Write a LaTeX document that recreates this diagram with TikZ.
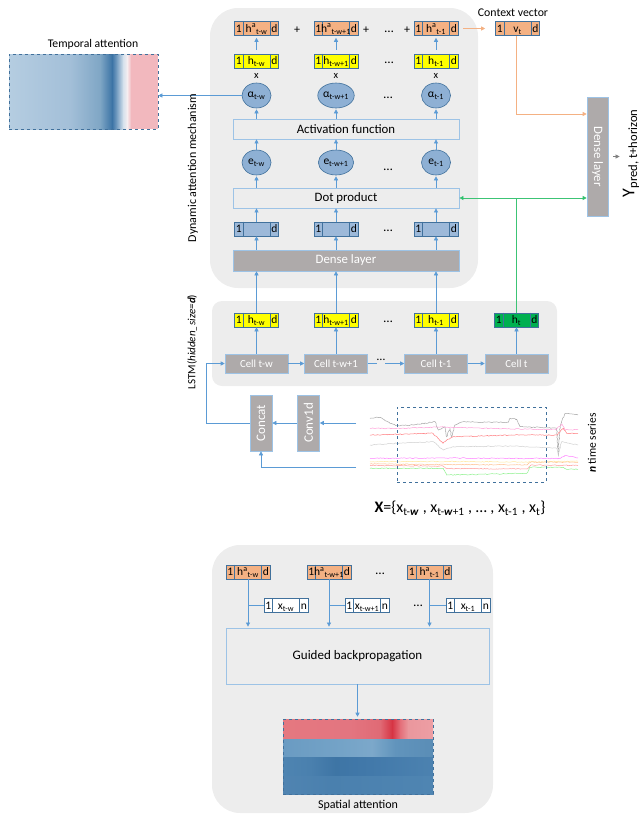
\documentclass[tikz,border=0pt]{standalone}
\usepackage{fontspec}
\setmainfont{Carlito}
\usetikzlibrary{arrows.meta,shapes.geometric,decorations.pathmorphing,calc}

\definecolor{panel}{HTML}{EDEDED}
\definecolor{bord}{HTML}{41719C}
\definecolor{lblue}{HTML}{9DC3E6}
\definecolor{arrc}{HTML}{5B9BD5}
\definecolor{orng}{HTML}{F4B183}
\definecolor{ylw}{HTML}{FFFF00}
\definecolor{grn}{HTML}{00B050}
\definecolor{bluebox}{HTML}{9DB9D9}
\definecolor{circ}{HTML}{8EB0D4}
\definecolor{cellg}{HTML}{AEAAAA}
\definecolor{olin}{HTML}{F4B183}
\definecolor{glin}{HTML}{3CC475}
\definecolor{garr}{HTML}{00B050}
% temporal
\definecolor{ta}{HTML}{B5CDE1}\definecolor{tb}{HTML}{A3BFD8}\definecolor{tc}{HTML}{7FA6C5}
\definecolor{td}{HTML}{3B73A5}\definecolor{te}{HTML}{7AA1C4}\definecolor{tf}{HTML}{D5E1EC}
\definecolor{tg}{HTML}{F6EEF0}\definecolor{th}{HTML}{F2B8BE}
% spatial
\definecolor{sa}{HTML}{E57880}\definecolor{sb}{HTML}{E37580}\definecolor{sc}{HTML}{E06A75}
\definecolor{sd}{HTML}{D63444}\definecolor{se}{HTML}{E46E79}\definecolor{sf}{HTML}{EA979D}
\definecolor{sg}{HTML}{ED9EA4}
\definecolor{ra}{HTML}{6A9BC2}\definecolor{rb}{HTML}{74A3C7}\definecolor{rc}{HTML}{7CA8CA}
\definecolor{rd}{HTML}{6194BC}\definecolor{re}{HTML}{5A8DB6}
\definecolor{qa}{HTML}{4E84B1}\definecolor{qb}{HTML}{4A80AE}\definecolor{qc}{HTML}{3E75A5}
\definecolor{qd}{HTML}{4279AA}\definecolor{qe}{HTML}{4C82B0}
\definecolor{pa}{HTML}{5084B1}\definecolor{pb}{HTML}{4A80AE}\definecolor{pc}{HTML}{4F85B2}
% series
\definecolor{s1}{HTML}{A6A6A6}\definecolor{s2}{HTML}{FF9ED8}\definecolor{s3}{HTML}{FF7C80}
\definecolor{s4}{HTML}{D0D0D0}\definecolor{s5}{HTML}{FF80FF}\definecolor{s6}{HTML}{FFE699}
\definecolor{s7}{HTML}{FFC090}\definecolor{s8}{HTML}{FF9A9A}\definecolor{s9}{HTML}{8CF08C}

\newcommand{\fs}[1]{\fontsize{#1}{#1}\selectfont}

\tikzset{
 vb/.style={draw=bord, line width=0.6pt, minimum width=44pt, minimum height=14pt, inner sep=0pt},
 vbl/.style={draw=bord, line width=0.6pt},
 vbt/.style={inner sep=0pt, anchor=base, font=\fs{11.5}},
 arr/.style={draw=arrc, line width=0.6pt, -{Triangle[length=4pt,width=4pt]}},
 lin/.style={draw=arrc, line width=0.6pt},
 opbox/.style={draw=lblue, line width=0.8pt, minimum width=226pt, minimum height=20pt, inner sep=0pt, font=\fs{12.8}},
 grbox/.style={fill=cellg, draw=lblue, line width=0.6pt, text=white, inner sep=0pt},
 circn/.style={ellipse, fill=circ, draw=bord, line width=0.6pt, minimum width=29pt, minimum height=25pt, inner sep=0pt, font=\fs{11.5}},
 dotsn/.style={inner sep=0pt, anchor=base, font=\fs{13}},
 lbl/.style={inner sep=0pt, font=\fs{12}},
 xmark/.style={inner sep=0pt, font=\fs{10.5}},
 heat/.style={draw=bord, dashed, line width=0.6pt, inner sep=0pt},
}

\newcommand{\vecbox}[6]{%
 \node[vb, fill=#4] (#1) at (#2,#3) {};
 \draw[vbl] ([xshift=9pt]#1.north west) -- ([xshift=9pt]#1.south west);
 \draw[vbl] ([xshift=-9pt]#1.north east) -- ([xshift=-9pt]#1.south east);
 \node[vbt] at ([xshift=4.5pt,yshift=-3.8pt]#1.west) {1};
 \node[vbt] at ([yshift=-3.8pt]#1.center) {#5};
 \node[vbt] at ([xshift=-4.5pt,yshift=-3.8pt]#1.east) {#6};
}
\newcommand{\hs}[6]{\shade[left color=#5, right color=#6] (#1,#3) rectangle (#2,#4);}

\begin{document}
\begin{tikzpicture}[x=1pt,y=-1pt]
\useasboundingbox (0,0) rectangle (639,817);

% panels
\fill[panel, rounded corners=28pt] (210,8) rectangle (478,288);
\fill[panel, rounded corners=10pt] (212,301) rectangle (557,386);
\fill[panel, rounded corners=28pt] (212,545) rectangle (493,813);

% ---------- top: weighted hidden states ----------
\vecbox{ha1}{256.5}{28.5}{orng}{h\textsuperscript{a}\textsubscript{t-w}}{d}
\vecbox{ha2}{336}{28.5}{orng}{h\textsuperscript{a}\textsubscript{t-w+1}}{d}
\vecbox{ha3}{436}{28.5}{orng}{h\textsuperscript{a}\textsubscript{t-1}}{d}
\node[lbl] (pl1) at (297,30) {+};
\node[lbl] (pl2) at (366,30) {+};
\node[dotsn] (dt0) at (389,32) {…};
\node[lbl] (pl3) at (407,30) {+};

\vecbox{hy1}{256.5}{61}{ylw}{h\textsubscript{t-w}}{d}
\vecbox{hy2}{336}{61}{ylw}{h\textsubscript{t-w+1}}{d}
\vecbox{hy3}{436}{61}{ylw}{h\textsubscript{t-1}}{d}
\node[dotsn] (dt1) at (389,63) {…};
\foreach \k in {1,2,3}{\draw[arr, shorten <=4pt, shorten >=2pt] (hy\k.north) -- (ha\k.south);}

\node[xmark] (m1) at (256.5,75.5) {x};
\node[xmark] (m2) at (336,75.5) {x};
\node[xmark] (m3) at (436,75.5) {x};

\node[circn] (al1) at (256.5,95.5) {α\textsubscript{t-w}};
\node[circn] (al2) at (336,95.5) {α\textsubscript{t-w+1}};
\node[circn] (al3) at (436,95.5) {α\textsubscript{t-1}};
\node[dotsn] (dt2) at (388,98) {…};

\node[opbox] (act) at (346,129) {Activation function};
\foreach \k in {1,2,3}{\draw[arr, shorten >=1pt] (act.north -| al\k.south) -- (al\k.south);}

\node[circn] (e1) at (256.5,162.5) {e\textsubscript{t-w}};
\node[circn] (e2) at (336,162.5) {e\textsubscript{t-w+1}};
\node[circn] (e3) at (436,162.5) {e\textsubscript{t-1}};
\node[dotsn] (dt3) at (388,170) {…};
\foreach \k in {1,2,3}{\draw[arr] (e\k.north) -- (e\k.north |- act.south);}

\node[opbox] (dot) at (346,198) {Dot product};
\foreach \k in {1,2,3}{\draw[arr, shorten >=1pt] (dot.north -| e\k.south) -- (e\k.south);}

\vecbox{bb1}{256.5}{229}{bluebox}{}{d}
\vecbox{bb2}{336}{229}{bluebox}{}{d}
\vecbox{bb3}{436}{229}{bluebox}{}{d}
\node[dotsn] (dt4) at (388,231) {…};
\foreach \k in {1,2,3}{\draw[arr] (bb\k.north) -- (bb\k.north |- dot.south);}

\node[grbox, minimum width=226pt, minimum height=21pt, font=\fs{12.8}] (dense1) at (346,260.5) {Dense layer};
\foreach \k in {1,2,3}{\draw[arr] (dense1.north -| bb\k.south) -- (bb\k.south);}

% ---------- LSTM ----------
\vecbox{lh1}{256.5}{320}{ylw}{h\textsubscript{t-w}}{d}
\vecbox{lh2}{336}{320}{ylw}{h\textsubscript{t-w+1}}{d}
\vecbox{lh3}{436}{320}{ylw}{h\textsubscript{t-1}}{d}
\vecbox{ht}{516.5}{320}{grn}{h\textsubscript{t}}{d}
\node[dotsn] (dt5) at (388,322) {…};
\foreach \k in {1,2,3}{\draw[arr] (lh\k.north) -- (lh\k.north |- dense1.south);}

\node[grbox, minimum width=63pt, minimum height=19pt, font=\fs{10.8}] (c1) at (256.5,363.5) {Cell t-w};
\node[grbox, minimum width=63pt, minimum height=19pt, font=\fs{10.8}] (c2) at (336,363.5) {Cell t-w+1};
\node[grbox, minimum width=63pt, minimum height=19pt, font=\fs{10.8}] (c3) at (436,363.5) {Cell t-1};
\node[grbox, minimum width=63pt, minimum height=19pt, font=\fs{10.8}] (c4) at (516.5,363.5) {Cell t};
\node[inner sep=0pt, font=\fs{12}] (cdots) at (381,360) {…};
\draw[arr] (c1.east) -- (c2.west);
\draw[lin] (c2.east) -- (c2.east -| cdots.west);
\draw[arr] (c3.west -| cdots.east) -- (c3.west);
\draw[arr] (c3.east) -- (c4.west);
\draw[arr] (c1.north) -- (lh1.south);
\draw[arr] (c2.north) -- (lh2.south);
\draw[arr] (c3.north) -- (lh3.south);
\draw[arr] (c4.north) -- (ht.south);

% ---------- context vector & output ----------
\vecbox{ctx}{517.5}{28.5}{orng}{v\textsubscript{t}}{d}
\node[lbl, font=\fs{11.8}] (ctxl) at (513,13) {Context vector};
\draw[draw=olin, line width=0.8pt, -{Triangle[length=4pt,width=4pt]}, shorten <=5pt, shorten >=10pt] (ha3.east) -- (ctx.west);

\node[grbox, minimum width=21pt, minimum height=119pt] (dense2) at (597.5,156.5) {\rotatebox{-90}{\fs{12.8}Dense layer}};
\coordinate (oj) at (516,114);
\draw[draw=olin, line width=0.8pt, -{Triangle[length=4pt,width=4pt]}] (ctx.south -| oj) -- (oj) -- (oj -| dense2.west);

\draw[draw=glin, line width=0.8pt] (ht.north) -- (ht.north |- dot.east);
\draw[draw=glin, line width=0.8pt, -{Triangle[length=4pt,width=4pt,fill=garr]}] (ht.north |- dot.east) -- (dot.east);
\draw[draw=glin, line width=0.8pt, -{Triangle[length=4pt,width=4pt,fill=garr]}] (ht.north |- dot.east) -- (dense2.west |- dot.east);

\node[inner sep=0pt] (yout) at (631,153) {\rotatebox{90}{\fs{18}Y\textsubscript{pred, t+horizon}}};
\draw[draw=gray, line width=0.6pt, -{Triangle[length=4pt,width=4pt]}, shorten <=5pt, shorten >=3pt] (dense2.east) -- (dense2.east -| yout.west);

% ---------- temporal attention ----------
\hs{9}{70.3}{54}{129}{ta}{tb}
\hs{70}{100.3}{54}{129}{tb}{tc}
\hs{100}{112.3}{54}{129}{tc}{td}
\hs{112}{117.3}{54}{129}{td}{te}
\hs{117}{123.3}{54}{129}{te}{tf}
\hs{123}{127.3}{54}{129}{tf}{tg}
\hs{127}{131.3}{54}{129}{tg}{th}
\fill[th] (131,54) rectangle (158,129);
\node[heat, minimum width=149pt, minimum height=75pt] (temp) at (83.5,91.5) {};
\node[lbl, font=\fs{11.7}] (templ) at (93,44) {Temporal attention};
\draw[arr] (al1.west) -- (al1.west -| temp.east);

% ---------- side labels ----------
\node[lbl, rotate=90] (daml) at (193,168) {Dynamic attention mechanism};
\node[lbl, rotate=90, font=\fs{11}] (lstml) at (192,342) {LSTM(\textit{hidden\_size=}\textbf{\textit{d}})};

% ---------- input ----------
\node[grbox, minimum width=22pt, minimum height=56pt] (concat) at (261,423) {\rotatebox{90}{\fs{13}Concat}};
\node[grbox, minimum width=22pt, minimum height=56pt] (conv) at (308.5,423) {\rotatebox{90}{\fs{13}Conv1d}};
\coordinate (lstmin) at (206,363.5);
\coordinate (ts1) at (356,423);
\coordinate (ts2) at (356,467);
\draw[arr] (concat.west) -| (lstmin) -- (c1.west);
\draw[arr] (conv.west) -- (concat.east);
\draw[arr] (ts1) -- (conv.east);
\draw[arr] (ts2) -| (concat.south);

\begin{scope}[line width=0.5pt, decoration={random steps, segment length=1.5pt, amplitude=0.45pt}]
\pgfmathsetseed{7}
\draw[s1, decorate] (370,418.3) -- (380,417.3) -- (390,423.3) -- (396.7,425.7) -- (413.3,425) -- (435,421.7) -- (438.3,430) -- (445,426.7) -- (446.7,436.7) -- (450,428.3) -- (451.7,436.7) -- (455,425) -- (463.3,421.7) -- (480,422.3) -- (508.3,422.3) -- (510,418.3) -- (516.7,419.3) -- (520,426.7) -- (545,427.7) -- (556.7,428.3) -- (558.3,455) -- (560,426.7) -- (565,413.3) -- (568.3,413.3) -- (578,415);
\draw[s2, decorate] (370,428.3) -- (396,428.5) -- (440,427) -- (513,429) -- (556,429.5) -- (562,424) -- (565,430) -- (578,429.5);
\draw[s3, decorate] (370,435) -- (433,433.3) -- (438,438.3) -- (443,443.3) -- (446.7,440) -- (453,436.7) -- (513,435) -- (556.7,435) -- (563.3,428.3) -- (566.7,433.3) -- (578,433.3);
\draw[s4, decorate] (370,445) -- (396.7,443.3) -- (433.3,441.7) -- (443.3,450) -- (453.3,446.7) -- (513.3,446) -- (556.7,448.3) -- (558.3,453.3) -- (561.7,441.7) -- (578,445);
\draw[s5, decorate] (370,458.3) -- (445,458) -- (560,458.5) -- (565,455.5) -- (578,458);
\draw[s6, decorate] (370,461.7) -- (445,461.5) -- (530,462) -- (578,461);
\draw[s7, decorate] (370,464) -- (445,464.5) -- (527,465) -- (531,462) -- (578,462.5);
\draw[s8, decorate] (370,465.5) -- (443,466) -- (447,468.5) -- (527,469) -- (531,465) -- (578,465.5);
\draw[s9, decorate] (370,468.3) -- (443.3,468.3) -- (446.7,475) -- (526.7,473.3) -- (530,467.3) -- (563.3,467.3) -- (566.7,469.3) -- (578,469.3);
\end{scope}
\node[heat, minimum width=149pt, minimum height=75pt] (tsbox) at (471.5,444.5) {};
\node[lbl, rotate=90, font=\fs{11.5}] (ntl) at (592,443) {\textbf{\textit{n}} time series};
\node[inner sep=0pt, font=\fs{16}] (xlbl) at (460,508) {\textbf{X}=\{x\textsubscript{t-\textbf{\textit{w}}} , x\textsubscript{t-\textbf{\textit{w}}+1} , … , x\textsubscript{t-1} , x\textsubscript{t}\}};

% ---------- bottom panel ----------
\vecbox{hb1}{248}{572}{orng}{h\textsuperscript{a}\textsubscript{t-w}}{d}
\vecbox{hb2}{329}{572}{orng}{h\textsuperscript{a}\textsubscript{t-w+1}}{d}
\vecbox{hb3}{429.5}{572}{orng}{h\textsuperscript{a}\textsubscript{t-1}}{d}
\node[dotsn] (dt6) at (380,574) {…};
\vecbox{xb1}{286}{605.5}{white}{x\textsubscript{t-w}}{n}
\vecbox{xb2}{367}{605.5}{white}{x\textsubscript{t-w+1}}{n}
\vecbox{xb3}{468}{605.5}{white}{x\textsubscript{t-1}}{n}
\node[dotsn] (dt7) at (418,606) {…};

\node[opbox, minimum width=263pt, minimum height=56pt, font=\fs{13}] (gbp) at (357.5,656) {Guided backpropagation};
\foreach \k in {1,2,3}{
 \draw[arr, shorten >=1pt] (hb\k.south) -- (hb\k.south |- gbp.north);
 \draw[lin] (xb\k.west) -- (xb\k.west -| hb\k.south);
}

% spatial attention
\hs{283}{350.3}{719}{739}{sa}{sb}
\hs{350}{380.3}{719}{739}{sb}{sc}
\hs{380}{392.3}{719}{739}{sc}{sd}
\hs{392}{400.3}{719}{739}{sd}{se}
\hs{400}{408.3}{719}{739}{se}{sf}
\hs{408}{433}{719}{739}{sf}{sg}
\hs{283}{340.3}{739}{757.3}{ra}{rb}
\hs{340}{372.3}{739}{757.3}{rb}{rc}
\hs{372}{395.3}{739}{757.3}{rc}{rd}
\hs{395}{433}{739}{757.3}{rd}{re}
\hs{283}{310.3}{757}{776.3}{qa}{qb}
\hs{310}{335.3}{757}{776.3}{qb}{qc}
\hs{335}{370.3}{757}{776.3}{qc}{qd}
\hs{370}{433}{757}{776.3}{qd}{qe}
\hs{283}{330.3}{776}{794}{pa}{pb}
\hs{330}{433}{776}{794}{pb}{pc}
\node[heat, minimum width=150pt, minimum height=75pt] (spat) at (358,756.5) {};
\node[lbl] (spl) at (358,805) {Spatial attention};
\draw[arr, shorten >=2pt] (gbp.south) -- (gbp.south |- spat.north);

\end{tikzpicture}
\end{document}
